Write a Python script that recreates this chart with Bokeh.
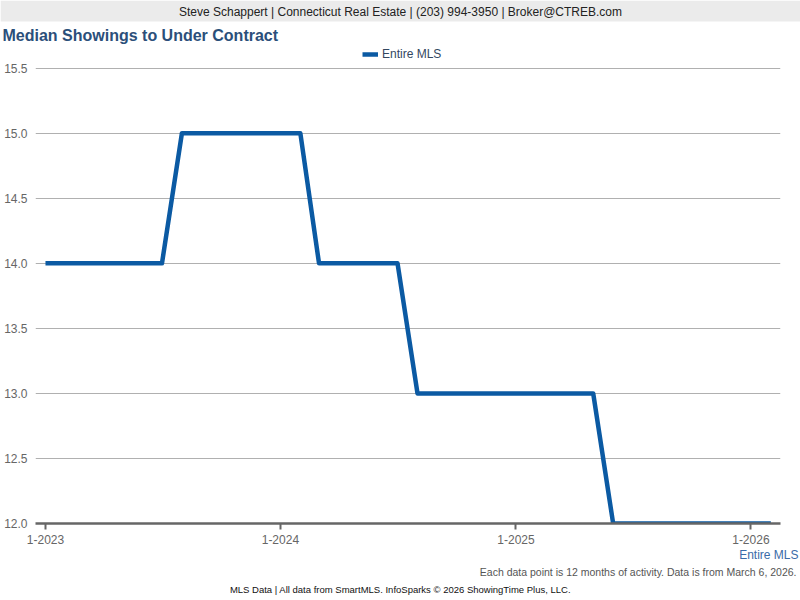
import pandas as pd
from bokeh.plotting import figure
from bokeh.layouts import column
from bokeh.models import (Legend, LegendItem, FixedTicker, BoxAnnotation,
                          DatetimeTickFormatter, Range1d, CustomJSTickFormatter)
from bokeh.core.properties import value
from bokeh.embed import file_html
from bokeh.resources import INLINE

# ---- data ----
months = pd.date_range("2023-01-01", "2026-02-01", freq="MS")
values = [14, 14, 14, 14, 14, 14, 14, 15, 15, 15, 15, 15,      # 2023
          15, 15, 14, 14, 14, 14, 14, 13, 13, 13, 13, 13,      # 2024
          13, 13, 13, 13, 13, 12, 12, 12, 12, 12, 12, 12,      # 2025
          12, 12]                                              # 2026
tick_dates = ["2023-01-01", "2024-01-01", "2025-01-01", "2026-01-01"]
y_ticks = [12.0, 12.5, 13.0, 13.5, 14.0, 14.5, 15.0, 15.5]
series_name = "Entire MLS"

header_text = "Steve Schappert | Connecticut Real Estate | (203) 994-3950 | Broker@CTREB.com"
title_text = "Median Showings to Under Contract"
note_text = "Each data point is 12 months of activity. Data is from March 6, 2026."
footer_text = "MLS Data | All data from SmartMLS. InfoSparks \u00a9 2026 ShowingTime Plus, LLC."

FONT = "Liberation Sans"
BLUE = "#0b5aa3"
W = 800
TOP_H = 62          # page 0..62
MAIN_H = 486        # page 62..548
BOT_H = 600 - TOP_H - MAIN_H


def blank_fig(h):
    f = figure(width=W, height=h, output_backend="svg", toolbar_location=None,
               x_range=Range1d(0, W), y_range=Range1d(h, 0),
               x_axis_location=None, y_axis_location=None,
               min_border=0, min_border_left=0, min_border_right=0,
               min_border_top=0, min_border_bottom=0, frame_align=False)
    f.grid.visible = False
    f.outline_line_color = None
    f.background_fill_color = "white"
    f.border_fill_color = "white"
    return f


# ---------------- top: header, title, legend ----------------
top = blank_fig(TOP_H)
top.add_layout(BoxAnnotation(top=0, bottom=21, fill_color="#ebebeb", fill_alpha=1,
                             line_color=None, level="underlay"))
top.text(x=[400], y=[11], text=[header_text], text_font=value(FONT),
         text_font_size="12px", text_color="#222222", text_align="center",
         text_baseline="middle")
top.text(x=[2], y=[35], text=[title_text], text_font=value(FONT),
         text_font_size="16px", text_font_style="bold", text_color="#2b4f7a",
         text_align="left", text_baseline="middle")
legend_swatch = top.line(x=[float("nan")], y=[float("nan")], line_color=BLUE,
                         line_width=4.5)
legend = Legend(items=[LegendItem(label=series_name, renderers=[legend_swatch])],
                location=(362, 1), orientation="horizontal",
                label_text_font=FONT, label_text_font_size="12px",
                label_text_color="#33475f", glyph_width=16, glyph_height=14,
                label_height=14, padding=0, margin=0, spacing=0,
                border_line_color=None, background_fill_alpha=0, label_standoff=4)
top.add_layout(legend, "center")

# ---------------- main chart ----------------
x_start = pd.Timestamp("2023-01-01") - pd.Timedelta(days=15.5)
x_end = pd.Timestamp("2026-02-16")

p = figure(width=W, height=MAIN_H, x_axis_type="datetime", output_backend="svg",
           toolbar_location=None, x_range=Range1d(x_start, x_end),
           y_range=Range1d(12.0, 15.505), frame_align=False,
           min_border_left=35, min_border_right=20,
           min_border_top=5, min_border_bottom=25)
p.outline_line_color = None
p.background_fill_color = "white"
p.border_fill_color = "white"

p.line(months, values, line_color=BLUE, line_width=4.5, line_join="round")

p.xgrid.grid_line_color = None
p.ygrid.grid_line_color = "#b0b0b0"
p.ygrid.grid_line_width = 1
p.yaxis.ticker = FixedTicker(ticks=y_ticks)
p.yaxis.formatter = CustomJSTickFormatter(code="return tick.toFixed(1);")
p.yaxis.axis_line_color = None
p.yaxis.major_tick_line_color = None
p.yaxis.minor_tick_line_color = None
p.yaxis.major_tick_out = 0
p.yaxis.major_tick_in = 0
p.yaxis.major_label_standoff = 8
p.yaxis.major_label_text_font = FONT
p.yaxis.major_label_text_font_size = "12px"
p.yaxis.major_label_text_color = "#666666"

p.xaxis.ticker = FixedTicker(ticks=[pd.Timestamp(d).value / 1e6 for d in tick_dates])
p.xaxis.formatter = DatetimeTickFormatter(months="%-m-%Y", days="%-m-%Y", years="%-m-%Y")
p.xaxis.axis_line_color = "#666666"
p.xaxis.axis_line_width = 2.5
p.xaxis.major_tick_line_color = "#666666"
p.xaxis.major_tick_line_width = 2
p.xaxis.major_tick_in = 0
p.xaxis.major_tick_out = 6
p.xaxis.minor_tick_line_color = None
p.xaxis.major_label_standoff = 5
p.xaxis.major_label_text_font = FONT
p.xaxis.major_label_text_font_size = "12px"
p.xaxis.major_label_text_color = "#666666"

# ---------------- bottom: notes ----------------
bot = blank_fig(BOT_H)
y0 = TOP_H + MAIN_H
bot.text(x=[798], y=[554 - y0], text=[series_name], text_font=value(FONT),
         text_font_size="12px", text_color="#3b6ca8", text_align="right",
         text_baseline="middle")
bot.text(x=[796], y=[571 - y0], text=[note_text], text_font=value(FONT),
         text_font_size="10.5px", text_color="#555555", text_align="right",
         text_baseline="middle")
bot.text(x=[400], y=[589 - y0], text=[footer_text], text_font=value(FONT),
         text_font_size="9.5px", text_color="#111111", text_align="center",
         text_baseline="middle")

layout = column(top, p, bot, spacing=0)
open("out.html", "w").write(file_html(layout, INLINE))
